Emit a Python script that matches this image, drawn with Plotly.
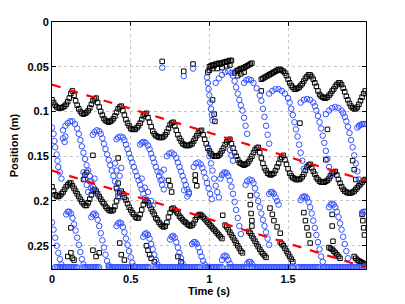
import plotly.graph_objects as go

# ---------------- data (time in s, position in m) ----------------
FRAME_DT = 0.01  # camera frame interval

# black track A (upper oscillating layer), one value per frame from t = 0
TRACK_A_Y = [
    0.087, 0.090, 0.093, 0.095, 0.096, 0.096, 0.096, 0.095, 0.094, 0.092, 0.089, 0.085, 0.080, 0.077,
    0.082, 0.088, 0.093, 0.097, 0.100, 0.102, 0.103, 0.102, 0.101, 0.099, 0.096, 0.092, 0.088, 0.086, 0.085,
    0.090, 0.095, 0.100, 0.104, 0.108, 0.110, 0.111, 0.112, 0.111, 0.110, 0.108, 0.105, 0.101, 0.097, 0.095, 0.094,
    0.099, 0.104, 0.109, 0.113, 0.116, 0.119, 0.120, 0.120, 0.120, 0.118, 0.116, 0.113, 0.109, 0.105, 0.103, 0.102,
    0.107, 0.112, 0.117, 0.122, 0.125, 0.127, 0.128, 0.129, 0.129, 0.129, 0.128, 0.126, 0.123, 0.119, 0.115, 0.113, 0.112,
    0.116, 0.121, 0.126, 0.130, 0.133, 0.136, 0.137, 0.138, 0.138, 0.138, 0.137, 0.136, 0.133, 0.130, 0.127, 0.124, 0.122, 0.121,
    0.126, 0.131, 0.136, 0.141, 0.144, 0.147, 0.149, 0.150, 0.150, 0.150, 0.149, 0.147, 0.144, 0.141, 0.137, 0.134, 0.132, 0.131,
    0.136, 0.141, 0.146, 0.150, 0.154, 0.157, 0.158, 0.159, 0.160, 0.159, 0.158, 0.156, 0.153, 0.150, 0.146, 0.143, 0.141, 0.140,
    0.146, 0.152, 0.158, 0.163, 0.166, 0.169, 0.170, 0.171, 0.170, 0.169, 0.166, 0.162, 0.158, 0.153, 0.151, 0.149,
    0.154, 0.159, 0.164, 0.169, 0.172, 0.174, 0.175, 0.176, 0.176, 0.176, 0.175, 0.173, 0.170, 0.166, 0.162, 0.160, 0.159,
    0.163, 0.167, 0.170, 0.174, 0.176, 0.178, 0.179, 0.179, 0.179, 0.178, 0.177, 0.175, 0.172, 0.169, 0.168, 0.167,
    0.171, 0.176, 0.180, 0.184, 0.187, 0.189, 0.190, 0.191, 0.191, 0.191, 0.190, 0.189, 0.187, 0.185, 0.183, 0.181, 0.179, 0.177, 0.176,
]

# black track B (lower layer): (start time, values per frame)
TRACK_B_SEGMENTS = [
    (0.00, [0.184, 0.189, 0.193, 0.195, 0.195, 0.194, 0.192, 0.190, 0.187, 0.184, 0.182, 0.180, 0.180,
            0.183, 0.186, 0.189, 0.192, 0.195, 0.198, 0.201, 0.203, 0.205, 0.205, 0.202, 0.198, 0.193, 0.189, 0.187,
            0.189, 0.192, 0.195, 0.198, 0.201, 0.203, 0.206, 0.208, 0.210, 0.211, 0.211, 0.210, 0.206, 0.200, 0.195, 0.191, 0.189,
            0.192, 0.196, 0.199, 0.203, 0.207, 0.210, 0.213, 0.215, 0.218, 0.219, 0.219, 0.215, 0.210, 0.204, 0.200, 0.199,
            0.202, 0.205, 0.209, 0.212, 0.215, 0.219, 0.221, 0.224, 0.226, 0.228, 0.229, 0.228, 0.224, 0.218, 0.213, 0.209, 0.208,
            0.210, 0.212, 0.214, 0.217, 0.219, 0.221, 0.223, 0.224, 0.226, 0.227, 0.228, 0.227, 0.225, 0.221, 0.218, 0.216, 0.215,
            0.216, 0.218, 0.220, 0.222, 0.224, 0.226, 0.228, 0.230, 0.232, 0.234, 0.236, 0.238, 0.240, 0.242]),
    (1.10, [0.227, 0.229, 0.232, 0.235, 0.238, 0.241, 0.244, 0.247, 0.250, 0.253, 0.256, 0.258]),
    (1.25, [0.234, 0.236, 0.239, 0.242, 0.245, 0.248, 0.251, 0.254, 0.257, 0.259, 0.261, 0.263]),
    (1.45, [0.246, 0.248, 0.250, 0.253, 0.256, 0.259, 0.262, 0.265, 0.268]),
    (1.76, [0.252, 0.253, 0.254, 0.256, 0.258, 0.260, 0.262, 0.264]),
    (1.92, [0.262, 0.264, 0.266, 0.267, 0.268, 0.269, 0.270, 0.271]),
]

# black track U (top layer, after t = 1 s)
TRACK_U_SEGMENTS = [
    (1.00, [0.050, 0.049, 0.048, 0.049, 0.047, 0.047, 0.046, 0.047, 0.046, 0.045, 0.045, 0.044, 0.044, 0.043, 0.043]),
    (1.16, [0.057, 0.055, 0.054, 0.053, 0.052, 0.052, 0.051, 0.050, 0.049, 0.048, 0.047, 0.046]),
    (1.33, [0.064, 0.063, 0.062, 0.061, 0.060, 0.059, 0.058, 0.057, 0.056, 0.055, 0.054, 0.053, 0.053,
            0.054, 0.055, 0.057, 0.060, 0.064, 0.068, 0.071, 0.073, 0.075, 0.075,
            0.074, 0.073, 0.071, 0.069, 0.066, 0.063, 0.061, 0.059, 0.059, 0.061,
            0.064, 0.068, 0.072, 0.077, 0.081, 0.083, 0.084, 0.085, 0.085, 0.084,
            0.082, 0.080, 0.077, 0.075, 0.072, 0.070, 0.068, 0.068, 0.070, 0.074,
            0.078, 0.083, 0.087, 0.091, 0.094, 0.096, 0.097, 0.097, 0.095, 0.092,
            0.088, 0.084, 0.080, 0.077]),
]

# isolated black squares (t, y)
SCATTER_SQUARES = [
    (0.70, 0.044), (0.837, 0.055), (0.896, 0.047),
    (0.99, 0.056), (1.00, 0.054), (1.02, 0.052), (1.05, 0.052), (1.08, 0.051), (1.11, 0.049),
    (1.13, 0.048), (1.18, 0.060), (1.20, 0.058), (1.22, 0.056),
    (1.02, 0.087), (1.03, 0.103), (1.035, 0.111), (1.33, 0.077), (1.575, 0.113), (1.75, 0.120),
    (0.20, 0.176), (0.21, 0.171), (0.22, 0.168), (0.26, 0.149), (0.12, 0.230), (0.13, 0.264),
    (0.41, 0.186), (0.42, 0.180), (0.42, 0.152), (0.43, 0.247),
    (0.74, 0.177), (0.75, 0.183), (0.76, 0.190), (0.91, 0.171), (0.91, 0.177), (0.92, 0.183),
    (0.60, 0.250), (0.61, 0.255), (0.62, 0.260), (0.63, 0.264), (0.65, 0.268),
    (1.085, 0.216), (1.26, 0.194), (1.26, 0.204), (1.265, 0.214), (1.27, 0.222), (1.27, 0.228),
    (1.385, 0.208), (1.40, 0.215), (1.41, 0.222), (1.43, 0.229), (1.45, 0.236),
    (1.60, 0.213), (1.61, 0.222), (1.62, 0.230), (1.63, 0.238), (1.64, 0.247),
    (1.78, 0.215), (1.78, 0.228), (1.785, 0.245),
    (1.97, 0.215), (1.975, 0.222), (1.98, 0.230), (1.985, 0.238),
    (1.74, 0.154), (1.91, 0.155), (1.92, 0.165), (1.93, 0.176),
    (0.10, 0.262), (0.12, 0.258), (0.14, 0.266), (0.26, 0.255), (0.28, 0.262), (0.30, 0.258),
    (0.44, 0.260), (0.46, 0.266), (0.80, 0.262), (0.82, 0.268),
]

# blue arcs, upper layer (t, y)
ARC_U1 = [(0.00, 0.118), (0.01, 0.125), (0.015, 0.133), (0.02, 0.140), (0.03, 0.148), (0.035, 0.155),
          (0.04, 0.162), (0.05, 0.168), (0.06, 0.175)]
ARC_U2 = [(0.07, 0.121), (0.085, 0.116), (0.10, 0.113), (0.115, 0.111), (0.13, 0.111), (0.145, 0.114),
          (0.16, 0.119), (0.17, 0.125), (0.18, 0.132), (0.19, 0.139), (0.20, 0.146), (0.21, 0.153),
          (0.22, 0.160), (0.23, 0.166), (0.24, 0.172), (0.25, 0.178), (0.26, 0.184), (0.27, 0.190)]
ARC_U3 = [(0.26, 0.126), (0.27, 0.123), (0.285, 0.121), (0.30, 0.122), (0.31, 0.125), (0.32, 0.130),
          (0.33, 0.136), (0.34, 0.142), (0.35, 0.148), (0.36, 0.154), (0.37, 0.160), (0.38, 0.166),
          (0.39, 0.172), (0.40, 0.178), (0.41, 0.184), (0.42, 0.190), (0.43, 0.196)]
ARC_U4 = [(0.41, 0.131), (0.42, 0.129), (0.435, 0.128), (0.45, 0.129), (0.46, 0.132), (0.47, 0.137),
          (0.48, 0.142), (0.49, 0.147), (0.50, 0.152), (0.51, 0.157), (0.52, 0.162), (0.53, 0.167),
          (0.54, 0.172), (0.55, 0.177), (0.56, 0.182), (0.57, 0.187), (0.58, 0.192), (0.59, 0.197)]
ARC_U5 = [(0.56, 0.137), (0.57, 0.135), (0.58, 0.134), (0.595, 0.135), (0.61, 0.138), (0.62, 0.142),
          (0.63, 0.147), (0.64, 0.152), (0.65, 0.157), (0.66, 0.162), (0.67, 0.167), (0.68, 0.172),
          (0.69, 0.177), (0.70, 0.182), (0.71, 0.187)]
ARC_U6 = [(0.73, 0.150), (0.745, 0.147), (0.76, 0.146), (0.775, 0.148), (0.79, 0.152), (0.80, 0.157),
          (0.81, 0.162), (0.82, 0.167), (0.83, 0.172), (0.84, 0.177), (0.85, 0.182), (0.86, 0.187),
          (0.87, 0.192)]
ARC_U7 = [(0.90, 0.162), (0.915, 0.158), (0.93, 0.157), (0.945, 0.159), (0.955, 0.163), (0.965, 0.168),
          (0.975, 0.174), (0.985, 0.180), (0.995, 0.186), (1.005, 0.192), (1.015, 0.198)]

# blue arcs, top layer after t = 1 s
ARC_V1 = [(1.04, 0.068), (1.06, 0.063), (1.08, 0.059), (1.10, 0.056), (1.12, 0.055), (1.14, 0.057),
          (1.15, 0.060), (1.16, 0.066), (1.17, 0.073), (1.18, 0.080), (1.19, 0.087), (1.20, 0.093),
          (1.21, 0.099), (1.22, 0.107), (1.23, 0.116), (1.24, 0.125)]
ARC_V2 = [(1.22, 0.068), (1.235, 0.065), (1.25, 0.064), (1.265, 0.065), (1.28, 0.068), (1.30, 0.074),
          (1.32, 0.082), (1.33, 0.088), (1.34, 0.097), (1.35, 0.106), (1.36, 0.116), (1.37, 0.126),
          (1.38, 0.136)]
ARC_V4 = [(1.38, 0.080), (1.40, 0.077), (1.42, 0.075), (1.44, 0.075), (1.46, 0.077), (1.48, 0.080),
          (1.50, 0.085), (1.51, 0.090), (1.52, 0.097), (1.53, 0.104), (1.54, 0.112), (1.55, 0.120),
          (1.56, 0.128), (1.57, 0.137), (1.58, 0.146), (1.59, 0.155), (1.60, 0.164)]
ARC_V5 = [(1.58, 0.090), (1.60, 0.087), (1.62, 0.086), (1.64, 0.087), (1.66, 0.090), (1.67, 0.094),
          (1.68, 0.099), (1.69, 0.105), (1.70, 0.112), (1.71, 0.119), (1.72, 0.127), (1.73, 0.135),
          (1.74, 0.144), (1.75, 0.153), (1.76, 0.162), (1.77, 0.171)]
ARC_V6 = [(1.74, 0.103), (1.76, 0.099), (1.78, 0.096), (1.80, 0.095), (1.82, 0.096), (1.84, 0.099),
          (1.85, 0.102), (1.86, 0.106), (1.87, 0.111), (1.88, 0.117), (1.89, 0.124), (1.90, 0.132),
          (1.91, 0.140), (1.92, 0.149), (1.93, 0.158), (1.94, 0.167), (1.95, 0.176)]
ARC_V7 = [(1.94, 0.118), (1.95, 0.116), (1.96, 0.115), (1.97, 0.114), (1.98, 0.114), (1.99, 0.114)]

# blue arcs, middle layer after t = 1 s
ARC_W1 = [(1.07, 0.175), (1.08, 0.171), (1.09, 0.169), (1.10, 0.168), (1.11, 0.169), (1.12, 0.172),
          (1.13, 0.177), (1.14, 0.184), (1.15, 0.192), (1.16, 0.201), (1.17, 0.210), (1.18, 0.219),
          (1.19, 0.228), (1.20, 0.237)]
ARC_W2 = [(1.23, 0.182), (1.24, 0.178), (1.255, 0.176), (1.27, 0.177), (1.28, 0.180), (1.29, 0.186),
          (1.30, 0.193), (1.31, 0.200), (1.32, 0.207), (1.33, 0.214), (1.34, 0.221), (1.35, 0.228),
          (1.36, 0.235), (1.37, 0.242), (1.38, 0.249)]
ARC_W2B = [(1.38, 0.192), (1.39, 0.190), (1.40, 0.190), (1.41, 0.192), (1.42, 0.196), (1.43, 0.200),
           (1.44, 0.204)]
ARC_W3 = [(1.58, 0.199), (1.59, 0.196), (1.60, 0.195), (1.61, 0.195), (1.62, 0.197), (1.63, 0.201),
          (1.64, 0.207), (1.65, 0.214), (1.66, 0.222), (1.67, 0.230), (1.68, 0.238), (1.69, 0.246),
          (1.70, 0.254), (1.71, 0.262), (1.72, 0.268)]
ARC_W4 = [(1.76, 0.207), (1.77, 0.204), (1.78, 0.203), (1.79, 0.204), (1.80, 0.207), (1.81, 0.212),
          (1.82, 0.218), (1.83, 0.225), (1.84, 0.232), (1.85, 0.240), (1.86, 0.248), (1.87, 0.256),
          (1.88, 0.264)]
ARC_W5 = [(1.97, 0.213), (1.98, 0.212), (1.99, 0.212)]

# blue arcs, bottom layer
ARC_L0 = [(0.00, 0.224), (0.01, 0.232), (0.02, 0.241), (0.03, 0.250), (0.04, 0.258), (0.05, 0.265), (0.06, 0.271)]
ARC_L1 = [(0.09, 0.215), (0.10, 0.212), (0.11, 0.212), (0.12, 0.214), (0.13, 0.219), (0.14, 0.226),
          (0.15, 0.233), (0.16, 0.241), (0.17, 0.249), (0.18, 0.257), (0.19, 0.265), (0.20, 0.271)]
ARC_L2 = [(0.25, 0.218), (0.26, 0.215), (0.27, 0.214), (0.28, 0.216), (0.29, 0.221), (0.30, 0.228),
          (0.31, 0.236), (0.32, 0.244), (0.33, 0.252), (0.34, 0.260), (0.35, 0.267), (0.36, 0.272)]
ARC_L3 = [(0.41, 0.228), (0.42, 0.225), (0.43, 0.224), (0.44, 0.225), (0.45, 0.229), (0.46, 0.235),
          (0.47, 0.242), (0.48, 0.249), (0.49, 0.256), (0.50, 0.263), (0.51, 0.269), (0.52, 0.273)]
ARC_L4 = [(0.58, 0.240), (0.59, 0.237), (0.60, 0.236), (0.61, 0.238), (0.62, 0.242), (0.63, 0.248),
          (0.64, 0.254), (0.65, 0.260), (0.66, 0.266), (0.67, 0.271)]
ARC_L5 = [(0.75, 0.243), (0.76, 0.240), (0.77, 0.239), (0.78, 0.241), (0.79, 0.246), (0.80, 0.252),
          (0.81, 0.258), (0.82, 0.264), (0.83, 0.270)]
ARC_L6 = [(0.89, 0.248), (0.90, 0.246), (0.91, 0.246), (0.92, 0.248), (0.93, 0.252), (0.94, 0.257),
          (0.95, 0.262), (0.96, 0.267), (0.97, 0.271)]
ARC_L7 = [(1.08, 0.266), (1.09, 0.262), (1.10, 0.261), (1.11, 0.262), (1.12, 0.266), (1.13, 0.270)]
ARC_L8 = [(1.24, 0.270), (1.25, 0.268), (1.26, 0.268), (1.27, 0.270)]

# scattered blue detections (t, y)
NOISE_CIRCLES = [
    (0.07, 0.130), (0.08, 0.134), (0.085, 0.128),
    (0.20, 0.168), (0.21, 0.175), (0.22, 0.182), (0.24, 0.178), (0.25, 0.186), (0.23, 0.190), (0.27, 0.175),
    (0.40, 0.158), (0.41, 0.166), (0.43, 0.172), (0.44, 0.163),
    (0.57, 0.175), (0.59, 0.185), (0.61, 0.190), (0.63, 0.200), (0.64, 0.205),
    (0.69, 0.168), (0.70, 0.176), (0.71, 0.165), (0.84, 0.188), (0.86, 0.195), (0.87, 0.190),
    (0.70, 0.051), (0.837, 0.0605), (0.896, 0.052),
    (0.985, 0.062), (0.99, 0.068), (0.995, 0.075), (1.00, 0.082), (1.005, 0.090), (1.01, 0.097),
    (1.015, 0.104), (1.02, 0.110),
    (0.99, 0.140), (1.00, 0.150), (1.01, 0.158), (1.02, 0.166), (1.03, 0.175), (1.04, 0.183),
    (1.05, 0.190), (1.06, 0.196), (1.13, 0.143), (1.14, 0.149), (1.15, 0.155),
]

# blue particles resting on the floor: (first frame time, last frame time)
FLOOR_Y = 0.274
FLOOR_RUNS = [(0.02, 0.16), (0.20, 0.30), (0.36, 0.50), (0.52, 0.62), (0.66, 0.94), (0.97, 1.08),
              (1.12, 1.24), (1.27, 1.53), (1.56, 1.70), (1.72, 1.88), (1.89, 1.99)]

# red dashed guide lines (t, y end points)
LINE_1 = [(0.0, 0.070), (1.99, 0.177)]
LINE_2 = [(0.0, 0.166), (1.99, 0.274)]

X_TICKS = [0, 0.5, 1, 1.5]
X_TICK_TEXT = ["0", "0.5", "1", "1.5"]
Y_TICKS = [0, 0.05, 0.1, 0.15, 0.2, 0.25]
Y_TICK_TEXT = ["0", "0.05", "0.1", "0.15", "0.2", "0.25"]

# ---------------- assemble ----------------
def frames(start, values):
    return [round(start + FRAME_DT * i, 3) for i in range(len(values))]

blk_x, blk_y = frames(0.0, TRACK_A_Y), list(TRACK_A_Y)
for seg in TRACK_B_SEGMENTS + TRACK_U_SEGMENTS:
    blk_x += frames(*seg)
    blk_y += seg[1]
blk_x += [p[0] for p in SCATTER_SQUARES]
blk_y += [p[1] for p in SCATTER_SQUARES]

arcs = [ARC_U1, ARC_U2, ARC_U3, ARC_U4, ARC_U5, ARC_U6, ARC_U7,
        ARC_V1, ARC_V2, ARC_V4, ARC_V5, ARC_V6, ARC_V7,
        ARC_W1, ARC_W2, ARC_W2B, ARC_W3, ARC_W4, ARC_W5,
        ARC_L0, ARC_L1, ARC_L2, ARC_L3, ARC_L4, ARC_L5, ARC_L6, ARC_L7, ARC_L8, NOISE_CIRCLES]
blu_x, blu_y = [], []
for arc in arcs:
    blu_x += [p[0] for p in arc]
    blu_y += [p[1] for p in arc]
for a, b in FLOOR_RUNS:
    n = int(round((b - a) / FRAME_DT)) + 1
    ts = frames(a, [FLOOR_Y] * n)
    blu_x += ts
    blu_y += [FLOOR_Y] * n

BLUE = "rgb(50,80,255)"
fig = go.Figure()
fig.add_trace(go.Scatter(x=blk_x, y=blk_y, mode="markers", cliponaxis=True,
                         marker=dict(symbol="square-open", size=4.5, color="black", line=dict(width=1, color="black"))))
fig.add_trace(go.Scatter(x=blu_x, y=blu_y, mode="markers", cliponaxis=True,
                         marker=dict(symbol="circle-open", size=5.5, color=BLUE, line=dict(width=1, color=BLUE))))
for ln in (LINE_1, LINE_2):
    fig.add_trace(go.Scatter(x=[p[0] for p in ln], y=[p[1] for p in ln], mode="lines",
                             line=dict(color="red", width=2.2, dash="dash")))

font = dict(family="Liberation Sans, Arial, sans-serif", size=11, color="black", weight="bold")
axis_common = dict(showline=True, linecolor="black", linewidth=1, mirror="ticks", ticks="inside",
                   ticklen=4, tickcolor="black", showgrid=True, gridcolor="#c4c4c4", griddash="dot",
                   gridwidth=1, zeroline=False, tickfont=font, automargin=False)
# the page body adds an 8 px offset, so margins are reduced by 8 px on the left/top
fig.update_layout(
    width=405, height=304, margin=dict(l=44, r=47, t=14, b=43),
    plot_bgcolor="white", paper_bgcolor="white", showlegend=False,
    xaxis=dict(range=[0, 1.995], tickvals=X_TICKS, ticktext=X_TICK_TEXT,
               title=dict(text="Time (s)", font=font, standoff=0), **axis_common),
    yaxis=dict(range=[0.276, 0], tickvals=Y_TICKS, ticktext=Y_TICK_TEXT,
               title=dict(text="Position (m)", font=font, standoff=6), **axis_common),
)
fig.write_html("out.html")
